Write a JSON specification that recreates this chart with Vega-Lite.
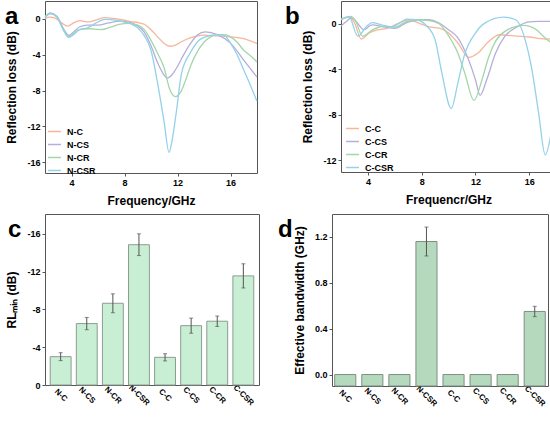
{
  "$schema": "https://vega.github.io/schema/vega-lite/v6.json",
  "background": "white",
  "padding": {"left": 4, "top": 0, "right": 2, "bottom": 0},
  "datasets": {
    "rla": [
      {"s": "N-C", "f": 2, "rl": 0.0}, {"s": "N-C", "f": 2.3, "rl": 0.2}, {"s": "N-C", "f": 2.8, "rl": 0.05}, {"s": "N-C", "f": 3.3, "rl": -0.5},
      {"s": "N-C", "f": 3.7, "rl": -0.8}, {"s": "N-C", "f": 4.1, "rl": -0.5}, {"s": "N-C", "f": 4.6, "rl": -0.2}, {"s": "N-C", "f": 5.3, "rl": -0.33},
      {"s": "N-C", "f": 5.9, "rl": -0.1}, {"s": "N-C", "f": 6.5, "rl": 0.15}, {"s": "N-C", "f": 7.2, "rl": 0.05}, {"s": "N-C", "f": 8, "rl": -0.15},
      {"s": "N-C", "f": 8.5, "rl": -0.3}, {"s": "N-C", "f": 9, "rl": -0.4}, {"s": "N-C", "f": 9.5, "rl": -0.6}, {"s": "N-C", "f": 10, "rl": -1.2},
      {"s": "N-C", "f": 10.5, "rl": -2.0}, {"s": "N-C", "f": 11, "rl": -2.75}, {"s": "N-C", "f": 11.4, "rl": -3.05}, {"s": "N-C", "f": 11.8, "rl": -2.95},
      {"s": "N-C", "f": 12.3, "rl": -2.55}, {"s": "N-C", "f": 13, "rl": -2.1}, {"s": "N-C", "f": 14, "rl": -1.8}, {"s": "N-C", "f": 15, "rl": -1.9},
      {"s": "N-C", "f": 16, "rl": -2.0}, {"s": "N-C", "f": 17, "rl": -2.2}, {"s": "N-C", "f": 18, "rl": -2.75},
      {"s": "N-CS", "f": 2, "rl": 0.2}, {"s": "N-CS", "f": 2.4, "rl": 0.67}, {"s": "N-CS", "f": 2.9, "rl": 0.3}, {"s": "N-CS", "f": 3.4, "rl": -1.1},
      {"s": "N-CS", "f": 3.8, "rl": -1.85}, {"s": "N-CS", "f": 4.2, "rl": -1.4}, {"s": "N-CS", "f": 4.6, "rl": -0.9}, {"s": "N-CS", "f": 5.2, "rl": -0.7},
      {"s": "N-CS", "f": 6, "rl": -0.7}, {"s": "N-CS", "f": 6.8, "rl": -0.45}, {"s": "N-CS", "f": 7.6, "rl": -0.25}, {"s": "N-CS", "f": 8.3, "rl": -0.35},
      {"s": "N-CS", "f": 9, "rl": -0.8}, {"s": "N-CS", "f": 9.5, "rl": -1.5}, {"s": "N-CS", "f": 10, "rl": -3.0}, {"s": "N-CS", "f": 10.5, "rl": -4.9},
      {"s": "N-CS", "f": 11, "rl": -6.3}, {"s": "N-CS", "f": 11.2, "rl": -6.6}, {"s": "N-CS", "f": 11.6, "rl": -6.2}, {"s": "N-CS", "f": 12, "rl": -5.3},
      {"s": "N-CS", "f": 12.5, "rl": -3.9}, {"s": "N-CS", "f": 13, "rl": -2.7}, {"s": "N-CS", "f": 13.5, "rl": -1.8}, {"s": "N-CS", "f": 14.1, "rl": -1.45},
      {"s": "N-CS", "f": 15, "rl": -1.75}, {"s": "N-CS", "f": 16, "rl": -2.7}, {"s": "N-CS", "f": 17, "rl": -4.6}, {"s": "N-CS", "f": 18, "rl": -6.5},
      {"s": "N-CR", "f": 2, "rl": 0.3}, {"s": "N-CR", "f": 2.4, "rl": 0.6}, {"s": "N-CR", "f": 2.9, "rl": 0.2}, {"s": "N-CR", "f": 3.4, "rl": -1.2},
      {"s": "N-CR", "f": 3.8, "rl": -2.0}, {"s": "N-CR", "f": 4.2, "rl": -1.6}, {"s": "N-CR", "f": 4.6, "rl": -1.2}, {"s": "N-CR", "f": 5.3, "rl": -1.1},
      {"s": "N-CR", "f": 6.2, "rl": -1.2}, {"s": "N-CR", "f": 7, "rl": -0.9}, {"s": "N-CR", "f": 7.6, "rl": -0.6}, {"s": "N-CR", "f": 8.3, "rl": -0.5},
      {"s": "N-CR", "f": 9, "rl": -0.7}, {"s": "N-CR", "f": 9.5, "rl": -1.2}, {"s": "N-CR", "f": 10, "rl": -2.4}, {"s": "N-CR", "f": 10.5, "rl": -3.85},
      {"s": "N-CR", "f": 11, "rl": -5.5}, {"s": "N-CR", "f": 11.4, "rl": -7.8}, {"s": "N-CR", "f": 11.85, "rl": -8.67}, {"s": "N-CR", "f": 12.3, "rl": -8.0},
      {"s": "N-CR", "f": 12.6, "rl": -6.9}, {"s": "N-CR", "f": 13, "rl": -5.2}, {"s": "N-CR", "f": 13.6, "rl": -3.4}, {"s": "N-CR", "f": 14, "rl": -2.6},
      {"s": "N-CR", "f": 14.5, "rl": -2.0}, {"s": "N-CR", "f": 15, "rl": -1.75}, {"s": "N-CR", "f": 15.5, "rl": -1.75}, {"s": "N-CR", "f": 16, "rl": -2.0},
      {"s": "N-CR", "f": 16.5, "rl": -2.6}, {"s": "N-CR", "f": 17, "rl": -3.5}, {"s": "N-CR", "f": 17.5, "rl": -4.1}, {"s": "N-CR", "f": 18, "rl": -4.8},
      {"s": "N-CSR", "f": 2, "rl": 0.15}, {"s": "N-CSR", "f": 2.4, "rl": 0.6}, {"s": "N-CSR", "f": 2.9, "rl": 0.2}, {"s": "N-CSR", "f": 3.4, "rl": -1.3},
      {"s": "N-CSR", "f": 3.8, "rl": -2.07}, {"s": "N-CSR", "f": 4.2, "rl": -1.7}, {"s": "N-CSR", "f": 4.6, "rl": -1.2}, {"s": "N-CSR", "f": 5.2, "rl": -1.0},
      {"s": "N-CSR", "f": 5.8, "rl": -0.5}, {"s": "N-CSR", "f": 6.5, "rl": -0.05}, {"s": "N-CSR", "f": 7.2, "rl": -0.1}, {"s": "N-CSR", "f": 8, "rl": -0.35},
      {"s": "N-CSR", "f": 8.5, "rl": -0.55}, {"s": "N-CSR", "f": 9, "rl": -1.0}, {"s": "N-CSR", "f": 9.5, "rl": -1.9}, {"s": "N-CSR", "f": 10, "rl": -3.5},
      {"s": "N-CSR", "f": 10.5, "rl": -7.2}, {"s": "N-CSR", "f": 11, "rl": -11.6}, {"s": "N-CSR", "f": 11.36, "rl": -14.9}, {"s": "N-CSR", "f": 11.6, "rl": -13.5},
      {"s": "N-CSR", "f": 11.9, "rl": -10.5}, {"s": "N-CSR", "f": 12.3, "rl": -6.1}, {"s": "N-CSR", "f": 13, "rl": -3.7}, {"s": "N-CSR", "f": 13.6, "rl": -2.4},
      {"s": "N-CSR", "f": 14, "rl": -2.05}, {"s": "N-CSR", "f": 15, "rl": -1.75}, {"s": "N-CSR", "f": 15.5, "rl": -1.8}, {"s": "N-CSR", "f": 16, "rl": -2.7},
      {"s": "N-CSR", "f": 16.5, "rl": -4.0}, {"s": "N-CSR", "f": 17, "rl": -5.7}, {"s": "N-CSR", "f": 17.5, "rl": -7.4}, {"s": "N-CSR", "f": 18, "rl": -9.2}
    ],
    "rlb": [
      {"s": "C-C", "f": 2, "rl": 0.35}, {"s": "C-C", "f": 2.6, "rl": 0.58}, {"s": "C-C", "f": 3, "rl": 0.1}, {"s": "C-C", "f": 3.5, "rl": -1.35},
      {"s": "C-C", "f": 4.1, "rl": -0.82}, {"s": "C-C", "f": 4.7, "rl": -0.55}, {"s": "C-C", "f": 5.4, "rl": -0.4}, {"s": "C-C", "f": 6.4, "rl": 0.1},
      {"s": "C-C", "f": 7, "rl": 0.35}, {"s": "C-C", "f": 7.8, "rl": 0.06}, {"s": "C-C", "f": 8.5, "rl": -0.26}, {"s": "C-C", "f": 9.5, "rl": -0.45},
      {"s": "C-C", "f": 10, "rl": -0.82}, {"s": "C-C", "f": 10.7, "rl": -1.7}, {"s": "C-C", "f": 11.5, "rl": -2.96}, {"s": "C-C", "f": 12.2, "rl": -2.58},
      {"s": "C-C", "f": 13, "rl": -1.55}, {"s": "C-C", "f": 13.8, "rl": -0.97}, {"s": "C-C", "f": 14.7, "rl": -1.05}, {"s": "C-C", "f": 16, "rl": -1.17},
      {"s": "C-C", "f": 17.2, "rl": -1.35}, {"s": "C-C", "f": 18, "rl": -1.3},
      {"s": "C-CS", "f": 2, "rl": -0.2}, {"s": "C-CS", "f": 2.4, "rl": 0.2}, {"s": "C-CS", "f": 2.8, "rl": 0.55}, {"s": "C-CS", "f": 3.2, "rl": 0.1},
      {"s": "C-CS", "f": 3.7, "rl": -0.53}, {"s": "C-CS", "f": 4.3, "rl": -0.1}, {"s": "C-CS", "f": 5.3, "rl": -0.3}, {"s": "C-CS", "f": 6, "rl": -0.4},
      {"s": "C-CS", "f": 6.9, "rl": 0.1}, {"s": "C-CS", "f": 7.8, "rl": 0.35}, {"s": "C-CS", "f": 8.5, "rl": 0.35}, {"s": "C-CS", "f": 9.3, "rl": 0.05},
      {"s": "C-CS", "f": 10, "rl": -0.53}, {"s": "C-CS", "f": 10.7, "rl": -1.25}, {"s": "C-CS", "f": 11.5, "rl": -3.2}, {"s": "C-CS", "f": 12, "rl": -4.9},
      {"s": "C-CS", "f": 12.35, "rl": -6.3}, {"s": "C-CS", "f": 12.85, "rl": -4.9}, {"s": "C-CS", "f": 13.5, "rl": -2.6}, {"s": "C-CS", "f": 14.2, "rl": -1.1},
      {"s": "C-CS", "f": 15, "rl": -0.35}, {"s": "C-CS", "f": 16, "rl": 0.17}, {"s": "C-CS", "f": 16.7, "rl": 0.2}, {"s": "C-CS", "f": 18, "rl": 0.2},
      {"s": "C-CR", "f": 2, "rl": 0.35}, {"s": "C-CR", "f": 2.7, "rl": 0.65}, {"s": "C-CR", "f": 3.1, "rl": 0.2}, {"s": "C-CR", "f": 3.6, "rl": -1.1},
      {"s": "C-CR", "f": 4.4, "rl": -0.5}, {"s": "C-CR", "f": 5.3, "rl": -0.2}, {"s": "C-CR", "f": 6, "rl": -0.3}, {"s": "C-CR", "f": 6.9, "rl": 0.2},
      {"s": "C-CR", "f": 7.8, "rl": 0.35}, {"s": "C-CR", "f": 8.5, "rl": 0.28}, {"s": "C-CR", "f": 9.3, "rl": 0.0}, {"s": "C-CR", "f": 10, "rl": -1.05},
      {"s": "C-CR", "f": 10.7, "rl": -2.6}, {"s": "C-CR", "f": 11.2, "rl": -4.3}, {"s": "C-CR", "f": 11.9, "rl": -6.75}, {"s": "C-CR", "f": 12.5, "rl": -4.9},
      {"s": "C-CR", "f": 13, "rl": -2.9}, {"s": "C-CR", "f": 13.5, "rl": -1.55}, {"s": "C-CR", "f": 14.2, "rl": -0.67}, {"s": "C-CR", "f": 15.6, "rl": -0.15},
      {"s": "C-CR", "f": 16.5, "rl": -0.5}, {"s": "C-CR", "f": 17.2, "rl": -1.26}, {"s": "C-CR", "f": 18, "rl": -2.0},
      {"s": "C-CSR", "f": 2, "rl": 0.4}, {"s": "C-CSR", "f": 2.6, "rl": 0.6}, {"s": "C-CSR", "f": 3.25, "rl": -1.1}, {"s": "C-CSR", "f": 3.9, "rl": -0.24},
      {"s": "C-CSR", "f": 4.3, "rl": 0.1}, {"s": "C-CSR", "f": 5, "rl": -0.1}, {"s": "C-CSR", "f": 5.7, "rl": -0.3}, {"s": "C-CSR", "f": 6.4, "rl": 0.1},
      {"s": "C-CSR", "f": 6.9, "rl": 0.4}, {"s": "C-CSR", "f": 7.6, "rl": 0.35}, {"s": "C-CSR", "f": 8.3, "rl": -0.1}, {"s": "C-CSR", "f": 9, "rl": -1.4},
      {"s": "C-CSR", "f": 9.5, "rl": -4.3}, {"s": "C-CSR", "f": 10.2, "rl": -7.46}, {"s": "C-CSR", "f": 10.7, "rl": -5.2}, {"s": "C-CSR", "f": 11.2, "rl": -2.7},
      {"s": "C-CSR", "f": 12, "rl": -0.82}, {"s": "C-CSR", "f": 12.7, "rl": 0.05}, {"s": "C-CSR", "f": 14.1, "rl": 0.58}, {"s": "C-CSR", "f": 15, "rl": 0.35},
      {"s": "C-CSR", "f": 15.7, "rl": -1.4}, {"s": "C-CSR", "f": 16.2, "rl": -4.0}, {"s": "C-CSR", "f": 16.7, "rl": -7.8}, {"s": "C-CSR", "f": 17.2, "rl": -11.55},
      {"s": "C-CSR", "f": 17.6, "rl": -9.9}, {"s": "C-CSR", "f": 18, "rl": -6.65}
    ],
    "bars": [
      {"s": "N-C", "rl": -3.0, "rlErr": 0.42, "bw": 0, "bwErr": 0},
      {"s": "N-CS", "rl": -6.5, "rlErr": 0.65, "bw": 0, "bwErr": 0},
      {"s": "N-CR", "rl": -8.65, "rlErr": 1.0, "bw": 0, "bwErr": 0},
      {"s": "N-CSR", "rl": -14.85, "rlErr": 1.15, "bw": 1.16, "bwErr": 0.126},
      {"s": "C-C", "rl": -2.93, "rlErr": 0.38, "bw": 0, "bwErr": 0},
      {"s": "C-CS", "rl": -6.28, "rlErr": 0.8, "bw": 0, "bwErr": 0},
      {"s": "C-CR", "rl": -6.75, "rlErr": 0.55, "bw": 0, "bwErr": 0},
      {"s": "C-CSR", "rl": -11.55, "rlErr": 1.28, "bw": 0.55, "bwErr": 0.045}
    ]
  },
  "resolve": {"scale": {"color": "independent"}, "legend": {"color": "independent"}},
  "spacing": 6,
  "vconcat": [
    {
      "spacing": 23,
      "resolve": {"scale": {"color": "independent"}, "legend": {"color": "independent"}},
      "hconcat": [
        {
          "width": 212, "height": 172,
          "title": {"text": "a", "dx": -40},
          "data": {"name": "rla"},
          "mark": {"type": "line", "interpolate": "monotone", "strokeWidth": 1.3},
          "encoding": {
            "x": {"field": "f", "type": "quantitative", "scale": {"domain": [2, 18], "nice": false},
                  "axis": {"title": "Frequency/GHz", "values": [4, 8, 12, 16]}},
            "y": {"field": "rl", "type": "quantitative", "scale": {"domain": [-17.2, 2], "nice": false, "zero": false},
                  "axis": {"title": "Reflection loss (dB)", "values": [0, -4, -8, -12, -16]}},
            "color": {"field": "s", "type": "nominal",
                      "scale": {"domain": ["N-C", "N-CS", "N-CR", "N-CSR"], "range": ["#f5b69a", "#b3afd9", "#a3d6aa", "#92d2ea"]},
                      "legend": {"orient": "none", "legendX": 2, "legendY": 123}}
          }
        },
        {
          "width": 215, "height": 171,
          "title": {"text": "b", "dx": -56},
          "data": {"name": "rlb"},
          "mark": {"type": "line", "interpolate": "monotone", "strokeWidth": 1.3},
          "encoding": {
            "x": {"field": "f", "type": "quantitative", "scale": {"domain": [2, 18], "nice": false},
                  "axis": {"title": "Frequencr/GHz", "values": [4, 8, 12, 16]}},
            "y": {"field": "rl", "type": "quantitative", "scale": {"domain": [-13.05, 2], "nice": false, "zero": false},
                  "axis": {"title": "Reflection loss (dB)", "values": [0, -4, -8, -12]}},
            "color": {"field": "s", "type": "nominal",
                      "scale": {"domain": ["C-C", "C-CS", "C-CR", "C-CSR"], "range": ["#f5b69a", "#b3afd9", "#a3d6aa", "#92d2ea"]},
                      "legend": {"orient": "none", "legendX": 4, "legendY": 120}}
          }
        }
      ]
    },
    {
      "spacing": 17,
      "hconcat": [
        {
          "width": 214, "height": 171,
          "title": {"text": "c", "dx": -37},
          "data": {"name": "bars"},
          "encoding": {
            "x": {"field": "s", "type": "nominal", "sort": null,
                  "scale": {"paddingInner": 0.2, "paddingOuter": 0.2},
                  "axis": {"title": null, "ticks": false, "labelAngle": 45, "labelAlign": "center", "labelBaseline": "middle", "labelPadding": 10, "labelFontSize": 8}}
          },
          "layer": [
            {
              "mark": {"type": "bar", "fill": "#c8efd3", "stroke": "#8d9c90", "strokeWidth": 1},
              "encoding": {
                "y": {"field": "rl", "type": "quantitative", "scale": {"domain": [0, -18.1], "nice": false},
                      "axis": {"title": "RLₘᵢₙ (dB)", "values": [0, -4, -8, -12, -16]}}
              }
            },
            {
              "mark": {"type": "errorbar", "color": "#555555", "thickness": 1, "ticks": {"size": 4}},
              "encoding": {
                "y": {"field": "rl", "type": "quantitative", "title": "RLₘᵢₙ (dB)"},
                "yError": {"field": "rlErr"}
              }
            }
          ]
        },
        {
          "width": 216, "height": 172,
          "title": {"text": "d", "dx": -54},
          "data": {"name": "bars"},
          "encoding": {
            "x": {"field": "s", "type": "nominal", "sort": null,
                  "scale": {"paddingInner": 0.22, "paddingOuter": 0.1},
                  "axis": {"title": null, "ticks": false, "labelAngle": 45, "labelAlign": "center", "labelBaseline": "middle", "labelPadding": 10, "labelFontSize": 8}}
          },
          "layer": [
            {
              "mark": {"type": "bar", "fill": "#b4d9bd", "stroke": "#7f8f84", "strokeWidth": 1},
              "encoding": {
                "y": {"field": "bw", "type": "quantitative", "scale": {"domain": [-0.1, 1.4], "nice": false, "zero": false},
                      "axis": {"title": "Effective bandwidth (GHz)", "values": [0, 0.4, 0.8, 1.2], "format": ".1f"}},
                "y2": {"datum": -0.1}
              }
            },
            {
              "transform": [{"filter": "datum.bwErr > 0"}],
              "mark": {"type": "errorbar", "color": "#555555", "thickness": 1, "ticks": {"size": 4}},
              "encoding": {
                "y": {"field": "bw", "type": "quantitative", "title": "Effective bandwidth (GHz)"},
                "yError": {"field": "bwErr"}
              }
            }
          ]
        }
      ]
    }
  ],
  "config": {
    "font": "Liberation Sans",
    "view": {"stroke": "#555555", "strokeWidth": 1},
    "title": {"orient": "none", "anchor": "start", "frame": "group", "fontSize": 24, "fontWeight": "bold", "color": "#000000", "baseline": "alphabetic", "offset": 0, "dy": 4},
    "axis": {
      "grid": false, "domain": false,
      "tickColor": "#555555", "tickSize": 3,
      "labelFont": "Liberation Sans", "labelFontWeight": "bold", "labelFontSize": 9, "labelColor": "#000000", "labelPadding": 2,
      "labelExpr": "replace(datum.label, '\u2212', '-')",
      "titleFont": "Liberation Sans", "titleFontWeight": "bold", "titleFontSize": 12, "titleColor": "#000000", "titlePadding": 8
    },
    "legend": {
      "title": null, "symbolType": "stroke", "symbolSize": 169, "symbolStrokeWidth": 1.5, "padding": 0,
      "labelFont": "Liberation Sans", "labelFontWeight": "bold", "labelFontSize": 9, "labelColor": "#000000",
      "rowPadding": 0, "labelOffset": 5
    }
  }
}
